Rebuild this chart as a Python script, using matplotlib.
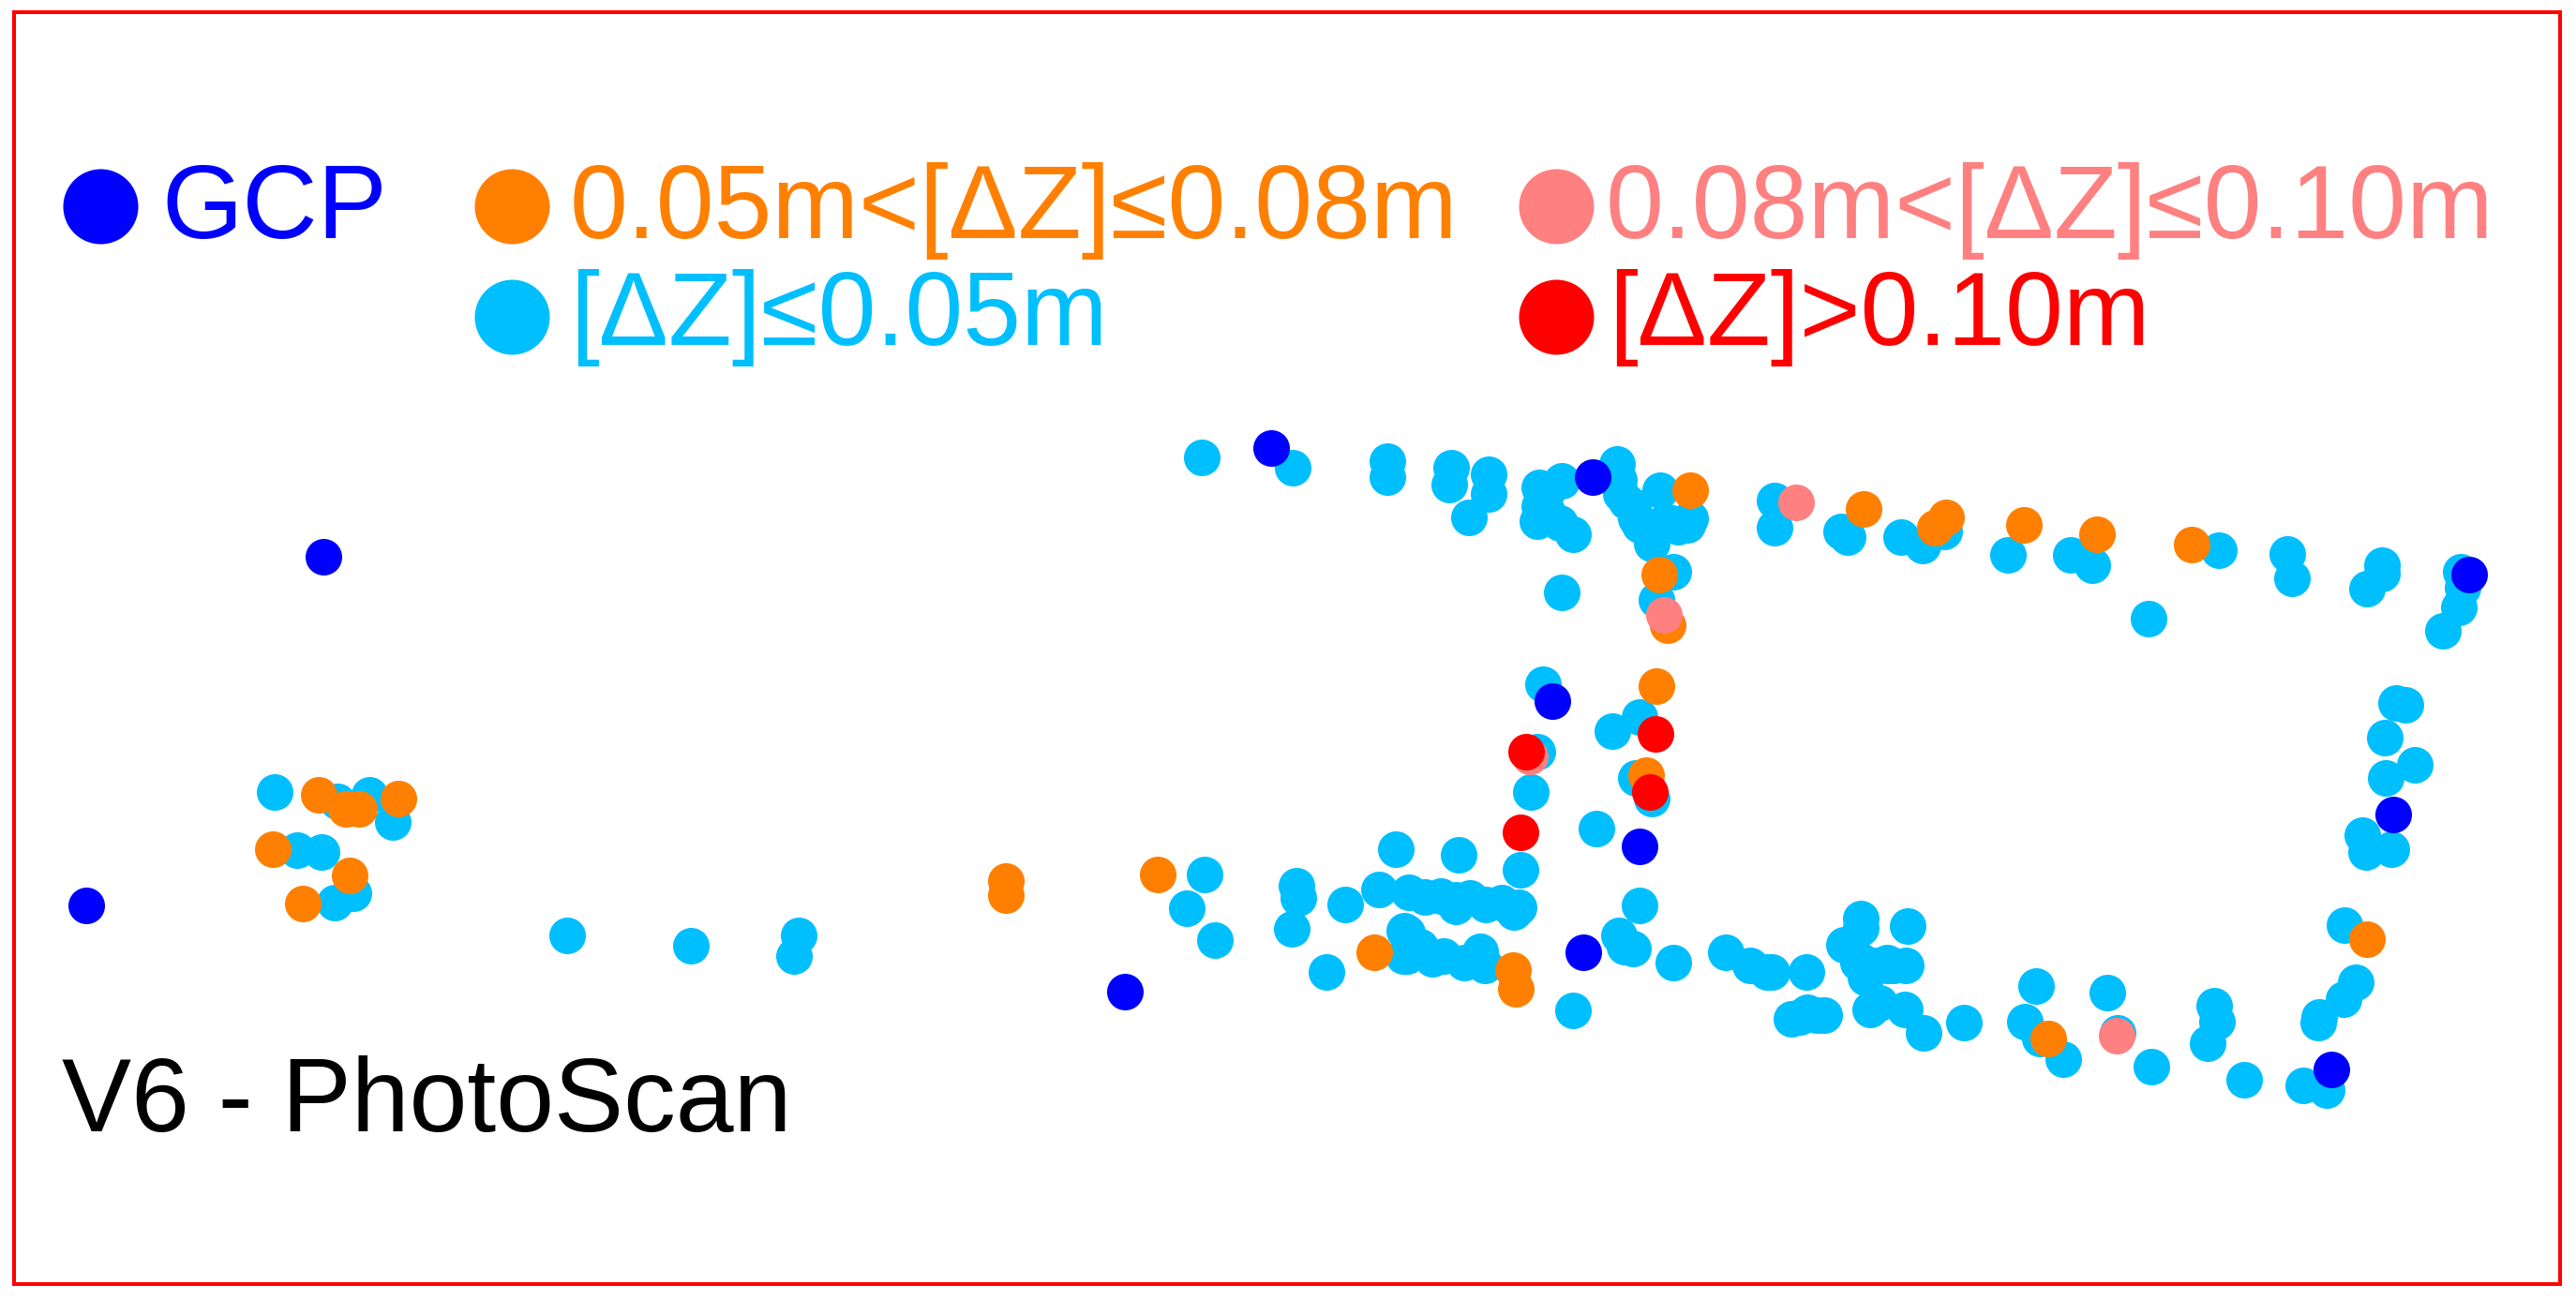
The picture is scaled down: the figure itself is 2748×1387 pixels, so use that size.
import matplotlib
matplotlib.use("Agg")
import matplotlib.pyplot as plt

W, H = 2748, 1387

# points (map position, full-size pixels)
cyan_x = [1282, 1379, 1480, 1480, 1548, 1546, 1588, 1588, 1567, 1666, 1642, 1642, 1640, 1664, 1678,
          1725, 1727, 1729, 1771, 1745, 1780, 1803, 1762, 1749, 1785, 1767, 1666, 1646, 1749, 1720,
          1893, 1893, 1964, 1971, 2028, 2051, 2074, 2142, 2209, 2232, 2367, 2440, 2445, 2292,
          2541, 2541, 2525, 2625, 2627, 2623, 2606, 2556, 2566, 2544, 1640, 1633, 1622, 1703, 1745, 1762,
          1489, 1556, 1285, 1266, 1296, 1383, 1385, 1378, 1435, 1471, 1503, 1537, 1553, 1568, 1602,
          1615, 1498, 1504, 1497, 1528, 1562, 1579, 1584, 1415, 1678, 1749, 1727, 1733, 1742, 1785,
          1841, 1867, 1890, 2576, 2545, 2520, 2524, 2551, 2501, 2513, 2500, 2474, 2473, 2457, 2482,
          2394, 2295, 2362, 2365, 2355, 2248, 2259, 2172, 2160, 2176, 2201, 2095, 2052, 2032, 1995,
          1985, 1985, 2035, 1967, 1982, 1990, 2013, 2033, 1911, 1946, 1928, 1927, 1885, 293, 360,
          394, 419, 317, 343, 377, 357, 605, 737, 852, 847,
          1742, 1770, 1760, 1790, 1800, 1735, 1650, 1650, 1520, 1585, 1620, 1553, 1501, 1501, 1515,
          1540, 2000, 2020, 1985, 2013, 1995, 2005, 1920, 1938]
cyan_y = [488, 499, 492, 509, 499, 517, 506, 527, 552, 513, 520, 540, 556, 558, 570,
          495, 512, 527, 523, 553, 557, 553, 580, 560, 610, 640, 632, 730, 765, 780,
          534, 563, 567, 573, 573, 582, 567, 592, 592, 603, 587, 591, 617, 660,
          603, 612, 628, 610, 627, 648, 673, 750, 752, 787, 802, 845, 928, 884, 830, 852,
          906, 912, 933, 969, 1003, 945, 958, 991, 965, 949, 952, 956, 967, 958, 963,
          973, 993, 1013, 1020, 1023, 1027, 1015, 1030, 1037, 1078, 966, 998, 1010, 1012, 1027,
          1016, 1030, 1037, 816, 830, 891, 909, 906, 987, 1048, 1066, 1085, 1091, 1158, 1163,
          1152, 1138, 1073, 1090, 1113, 1059, 1102, 1052, 1090, 1108, 1130, 1091, 1102, 1077, 1077,
          980, 990, 988, 1008, 1027, 1043, 1030, 1030, 1087, 1083, 1080, 1037, 1037, 845, 855,
          848, 877, 907, 909, 953, 963, 998, 1009, 998, 1020,
          540, 560, 565, 562, 560, 535, 525, 545, 957, 965, 968, 960, 995, 1020, 1010,
          1020, 1030, 1030, 1025, 1027, 1035, 1070, 1085, 1083]

orange_x = [1803, 1770, 1779, 1767, 1756, 1988, 2064, 2076, 2159, 2237, 2338, 1235, 1466, 1614, 1617,
            2525, 2185, 340, 369, 383, 425, 291, 373, 323, 1073, 1073]
orange_y = [523, 613, 667, 732, 827, 543, 563, 552, 560, 570, 581, 933, 1016, 1035, 1055,
            1002, 1108, 848, 863, 863, 852, 906, 934, 964, 940, 955]

pink_x = [1775, 1916, 1632, 2258]
pink_y = [656, 536, 807, 1105]

red_x = [1628, 1622, 1760, 1766]
red_y = [802, 888, 845, 783]

gcp_x = [1356, 1699, 1656, 2634, 1749, 1689, 1200, 2553, 2487, 92, 345]
gcp_y = [478, 509, 748, 613, 903, 1016, 1058, 869, 1141, 966, 594]

# frame position in the picture
left, right, top, bottom = 15, 2731, 13, 1370

fig = plt.figure(figsize=(W / 100, H / 100), dpi=100, facecolor="white")
ax = fig.add_axes([left / W, 1 - bottom / H, (right - left) / W, (bottom - top) / H])
ax.set_xlim(left, right)
ax.set_ylim(bottom, top)
ax.set_xticks([])
ax.set_yticks([])
for s in ax.spines.values():
    s.set_color("#FF0000")
    s.set_linewidth(2.9)

# draw order matters, later groups sit on top
dot = 790
ax.scatter(cyan_x, cyan_y, s=dot, c="#00BFFF", linewidths=0, zorder=2)
ax.scatter(orange_x, orange_y, s=dot, c="#FF8000", linewidths=0, zorder=3)
ax.scatter(pink_x, pink_y, s=dot, c="#FF8080", linewidths=0, zorder=4)
ax.scatter(red_x, red_y, s=dot, c="#FF0000", linewidths=0, zorder=5)
ax.scatter(gcp_x, gcp_y, s=dot, c="#0000FF", linewidths=0, zorder=6)

# legend by hand, it is not a regular grid
fs = 80
leg = 3320
for mx, my, tx, ty, label, col in [
    (107, 220, 172, 254, "GCP", "#0000FF"),
    (546, 220, 608, 254, "0.05m<[ΔZ]≤0.08m", "#FF8000"),
    (546, 338, 608, 368, "[ΔZ]≤0.05m", "#00BFFF"),
    (1660, 220, 1713, 254, "0.08m<[ΔZ]≤0.10m", "#FF8080"),
    (1660, 338, 1716, 368, "[ΔZ]>0.10m", "#FF0000"),
]:
    ax.scatter([mx], [my], s=leg, c=col, linewidths=0, zorder=7)
    ax.text(tx, ty, label, color=col, fontsize=fs, family="Liberation Sans", va="baseline", ha="left")

ax.text(66, 1207, "V6 - PhotoScan", color="black", fontsize=fs, family="Liberation Sans",
        va="baseline", ha="left")

fig.savefig("out.png", dpi=100)
